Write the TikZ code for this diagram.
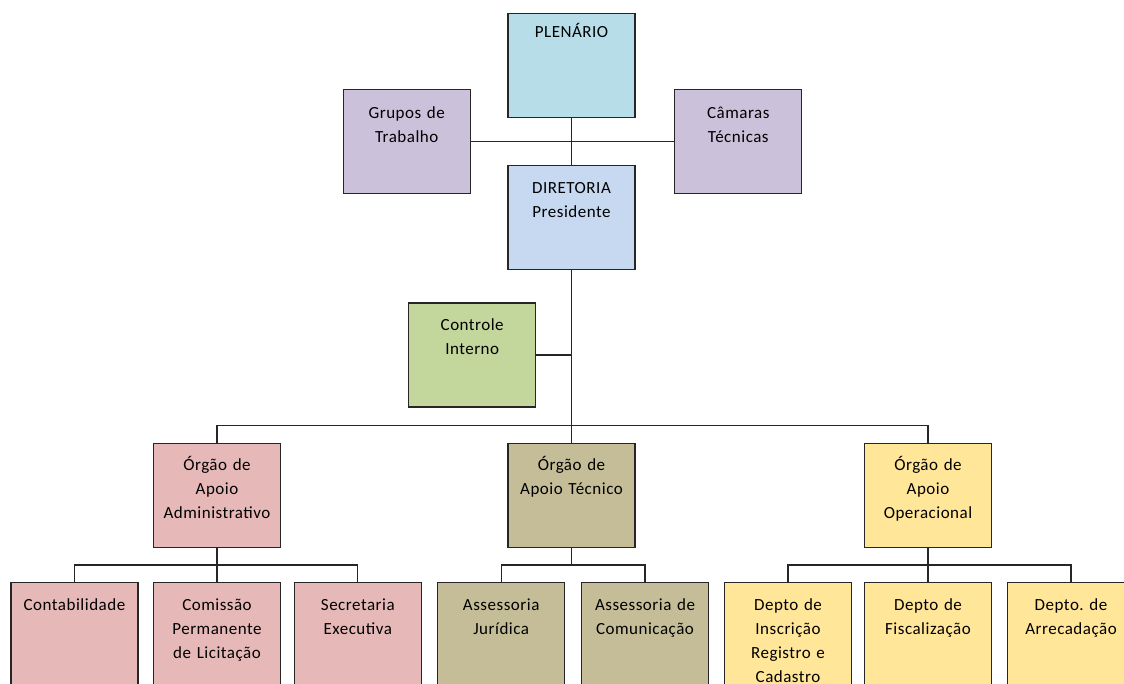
\documentclass[tikz,border=0pt]{standalone}
\usepackage{fontspec}
\setmainfont{Carlito}[LetterSpace=3]
\usepackage{tkz-graph}

\definecolor{plenBlue}{HTML}{B7DDE8}
\definecolor{groupLilac}{HTML}{CCC1DA}
\definecolor{dirBlue}{HTML}{C6D9F1}
\definecolor{ctrlGreen}{HTML}{C3D69B}
\definecolor{admPink}{HTML}{E6B9B8}
\definecolor{tecTan}{HTML}{C4BD97}
\definecolor{opeGold}{HTML}{FFE699}

\begin{document}
\begin{tikzpicture}[x = 1pt, y = -1pt, font = \fontsize{17}{24}\selectfont]
	\tikzstyle{VertexStyle} = []
	\tikzstyle{linkStyle} = [draw = black!85, line width = 1.3pt]
	\tikzstyle{EdgeStyle} = [linkStyle]
	\tikzstyle{unitStyle} = [shape = rectangle, draw = black!85, line width = 1.3pt, text width = 122pt, inner xsep = 2.5pt, inner ysep = 0pt, minimum width = 127pt, align = center, text height = 27.5pt, text depth = 76.5pt]
	\tikzstyle{plenStyle} = [unitStyle, fill = plenBlue, text height = 23.5pt, text depth = 80.5pt]
	\tikzstyle{groupStyle} = [unitStyle, fill = groupLilac, text height = 29pt, text depth = 75pt]
	\tikzstyle{dirStyle} = [unitStyle, fill = dirBlue]
	\tikzstyle{ctrlStyle} = [unitStyle, fill = ctrlGreen]
	\tikzstyle{admStyle} = [unitStyle, fill = admPink]
	\tikzstyle{tecStyle} = [unitStyle, fill = tecTan]
	\tikzstyle{opeStyle} = [unitStyle, fill = opeGold]
	\useasboundingbox (0, 0) rectangle (1124, 684);
	\clip (0, 0) rectangle (1124, 684);
	% top of the chart
	\Vertex[style = plenStyle, x = 571.5, y = 65.8, L = {PLENÁRIO}]{plen}
	\Vertex[style = groupStyle, x = 406.7, y = 141.7, L = {Grupos de\\Trabalho}]{grupos}
	\Vertex[style = groupStyle, x = 738.3, y = 141.7, L = {Câmaras\\Técnicas}]{camaras}
	\Vertex[style = dirStyle, x = 571.5, y = 217.7, L = {DIRETORIA\\Presidente}]{dir}
	\Vertex[style = ctrlStyle, x = 472.2, y = 355, L = {Controle\\Interno}]{ctrl}
	% support units
	\Vertex[style = admStyle, x = 217, y = 495.3, L = {Órgão de\\Apoio\\Administrativo}]{adm}
	\Vertex[style = tecStyle, x = 571.5, y = 495.3, L = {Órgão de\\Apoio Técnico}]{tec}
	\Vertex[style = opeStyle, x = 928, y = 495.3, L = {Órgão de\\Apoio\\Operacional}]{ope}
	% bottom row
	\Vertex[style = admStyle, x = 74.5, y = 634.7, L = {Contabilidade}]{cont}
	\Vertex[style = admStyle, x = 217, y = 634.7, L = {Comissão\\Permanente\\de Licitação}]{com}
	\Vertex[style = admStyle, x = 357.8, y = 634.7, L = {Secretaria\\Executiva}]{sec}
	\Vertex[style = tecStyle, x = 501.2, y = 634.7, L = {Assessoria\\Jurídica}]{jur}
	\Vertex[style = tecStyle, x = 645, y = 634.7, L = {Assessoria de\\Comunicação}]{comu}
	\Vertex[style = opeStyle, x = 788, y = 634.7, L = {Depto de\\Inscrição\\Registro e\\Cadastro}]{insc}
	\Vertex[style = opeStyle, x = 928, y = 634.7, L = {Depto de\\Fiscalização}]{fisc}
	\Vertex[style = opeStyle, x = 1071, y = 634.7, L = {Depto.\ de\\Arrecadação}]{arre}
	\coordinate (mainBus) at (0, 425.7);
	\coordinate (subBus) at (0, 565);
	\Edge[style = {linkStyle}](plen)(dir)
	\Edge[style = {linkStyle}](grupos)(camaras)
	\Edge[style = {linkStyle}](dir)(tec)
	\Edge[style = {linkStyle}](adm)(com)
	\Edge[style = {linkStyle}](ope)(fisc)
	\draw[linkStyle] (ctrl.east) -- (ctrl.east -| dir.south);
	\draw[linkStyle] (adm.north) -- (adm.north |- mainBus) -- (ope.north |- mainBus) -- (ope.north);
	\draw[linkStyle] (cont.north) -- (cont.north |- subBus) -- (sec.north |- subBus) -- (sec.north);
	\draw[linkStyle] (tec.south) -- (tec.south |- subBus);
	\draw[linkStyle] (jur.north) -- (jur.north |- subBus) -- (comu.north |- subBus) -- (comu.north);
	\draw[linkStyle] (insc.north) -- (insc.north |- subBus) -- (arre.north |- subBus) -- (arre.north);
\end{tikzpicture}
\end{document}
